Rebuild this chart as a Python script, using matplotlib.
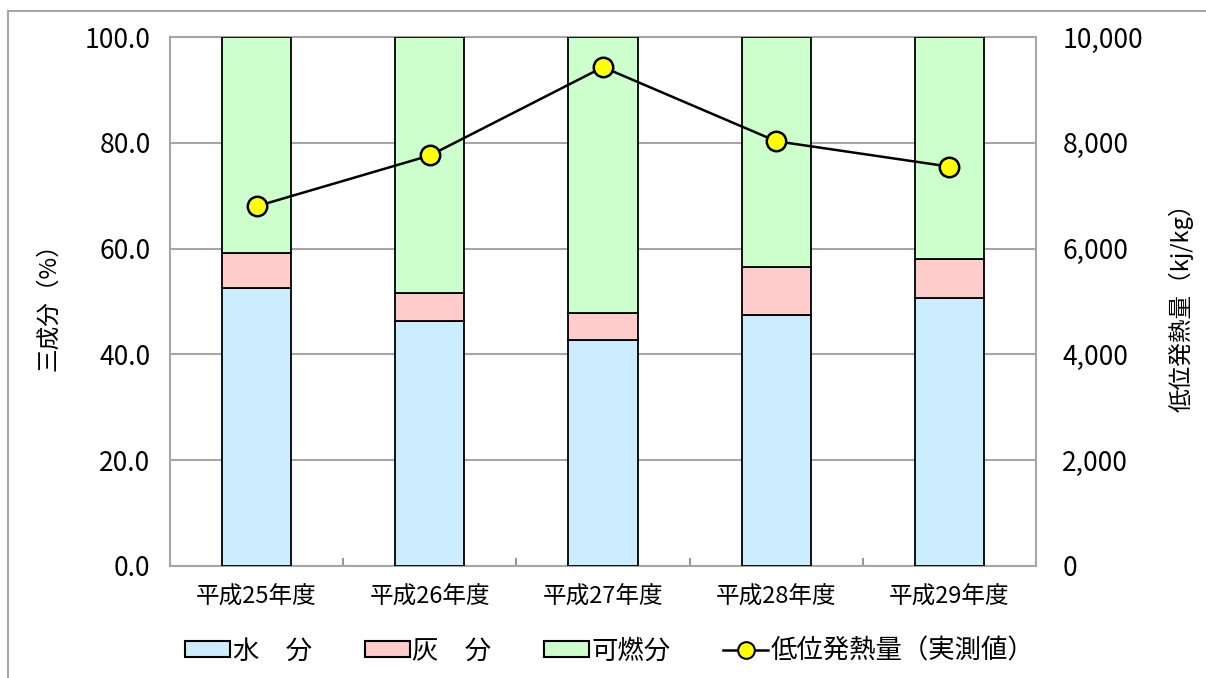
import matplotlib
matplotlib.use('Agg')
import matplotlib.pyplot as plt
from matplotlib.patches import Patch
from matplotlib.lines import Line2D
import numpy as np

plt.rcParams['font.family'] = ['Noto Sans CJK JP', 'DejaVu Sans']

years = ['平成25年度', '平成26年度', '平成27年度', '平成28年度', '平成29年度']
water = [52.5, 46.4, 42.7, 47.4, 50.7]
ash = [6.6, 5.3, 5.1, 9.2, 7.4]
combustible = [100 - w - a for w, a in zip(water, ash)]
heat_value = [6800, 7760, 9430, 8030, 7550]

fig = plt.figure(figsize=(12.06, 6.78), dpi=100)
ax = fig.add_axes([170 / 1206, 1 - 566 / 678, (1036 - 170) / 1206, (566 - 37) / 678])

x = np.arange(len(years))
w = 0.4
ax.bar(x, water, w, color='#CCECFF', edgecolor='black', linewidth=1.3, zorder=3)
ax.bar(x, ash, w, bottom=water, color='#FFCCCC', edgecolor='black', linewidth=1.3, zorder=3)
ax.bar(x, combustible, w, bottom=np.add(water, ash), color='#CCFFCC',
       edgecolor='black', linewidth=1.3, zorder=3)

ax.set_xlim(-0.5, len(years) - 0.5)
ax.set_ylim(0, 100)
ax.set_yticks(np.arange(0, 101, 20))
ax.set_yticklabels([f'{v:.1f}' for v in np.arange(0, 101, 20)], fontsize=19)
ax.set_xticks(x)
ax.set_xticklabels(years, fontsize=17)
ax.set_xticks(np.arange(0.5, len(years) - 1, 1), minor=True)
ax.tick_params(axis='x', which='major', length=0, pad=14)
ax.tick_params(axis='x', which='minor', direction='in', length=6, color='#999999', width=1.5)
ax.tick_params(axis='y', length=0, pad=14)
ax.grid(axis='y', color='#A6A6A6', linewidth=1.5, zorder=0)
for s in ax.spines.values():
    s.set_color('#A6A6A6')
    s.set_linewidth(1.5)
ax.set_ylabel('三成分（%）', fontsize=17, labelpad=18)

ax2 = ax.twinx()
ax2.plot(x, heat_value, color='black', linewidth=1.8, marker='o', markersize=14,
         markerfacecolor='#FFFF00', markeredgecolor='black', markeredgewidth=1.8, zorder=5)
ax2.set_ylim(0, 10000)
ax2.set_yticks(np.arange(0, 10001, 2000))
ax2.set_yticklabels([f'{v:,}' for v in range(0, 10001, 2000)], fontsize=19)
ax2.tick_params(axis='y', length=0, pad=19)
for s in ax2.spines.values():
    s.set_visible(False)
ax2.set_ylabel('低位発熱量（kj/kg）', fontsize=17, labelpad=18)

handles = [
    Patch(facecolor='#CCECFF', edgecolor='black', linewidth=1.5),
    Patch(facecolor='#FFCCCC', edgecolor='black', linewidth=1.5),
    Patch(facecolor='#CCFFCC', edgecolor='black', linewidth=1.5),
    Line2D([], [], color='black', linewidth=1.8, marker='o', markersize=12,
           markerfacecolor='#FFFF00', markeredgecolor='black', markeredgewidth=1.5),
]
labels = ['水　分', '灰　分', '可燃分', '低位発熱量（実測値）']
fig.legend(handles, labels, loc='center', bbox_to_anchor=(610 / 1206, 1 - 651 / 678),
           ncol=4, frameon=False, fontsize=19, handlelength=1.7, handleheight=0.55,
           handletextpad=0.1, columnspacing=2.0)

# outer frame (top and left edges)
fig.add_artist(Line2D([8 / 1206, 8 / 1206], [0, 1 - 11 / 678], color='#A6A6A6',
                      linewidth=1.5, transform=fig.transFigure))
fig.add_artist(Line2D([8 / 1206, 1], [1 - 11 / 678, 1 - 11 / 678], color='#A6A6A6',
                      linewidth=1.5, transform=fig.transFigure))

fig.savefig('out.png', dpi=100)
